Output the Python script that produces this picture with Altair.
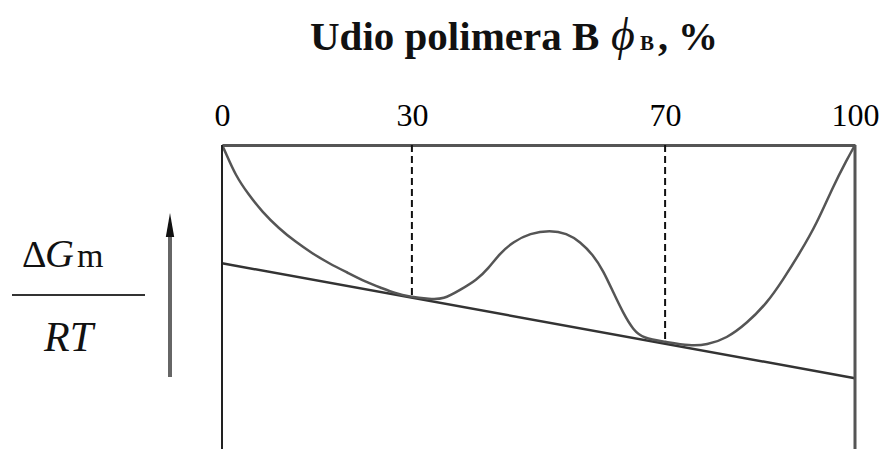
import altair as alt
import pandas as pd

# Curve of mixing free energy  (x: volume fraction of polymer B in %, y: dGm/RT, arbitrary units)
phi = [0, 0.52, 2.10, 4.22, 6.32, 8.96, 11.58, 14.22, 16.86, 20.02, 22.64, 25.28, 27.38, 29.49,
       32.86, 34.96, 37.6, 40.24, 42.07, 43.92, 46.02, 48.66, 51.82, 54.45, 56.56, 58.66, 60.24,
       61.82, 63.40, 64.98, 66.56, 69.98, 73.93, 76.57, 79.73, 82.89, 86.1, 88.6, 91.3, 94.0,
       96.5, 98.7, 100]
dg = [0, -0.22, -0.99, -1.64, -2.19, -2.74, -3.18, -3.56, -3.89, -4.22, -4.50, -4.71, -4.88, -4.99,
      -5.07, -5.08, -4.77, -4.44, -4.06, -3.56, -3.18, -2.90, -2.80, -2.90, -3.18, -3.62, -4.14,
      -4.85, -5.54, -6.09, -6.36, -6.47, -6.61, -6.58, -6.36, -5.87, -5.20, -4.44, -3.55, -2.57,
      -1.38, -0.49, 0]

# common tangent
tan_phi = [0, 100]
tan_dg = [-3.89, -7.67]

# dashed markers at the binodal compositions
mark_phi = [30, 70]
mark_top = [0, 0]
mark_dg = [-5.0, -6.5]

tick_values = [0, 30, 70, 100]
y_domain = [-10, 0]

title_main = "Udio polimera B"
title_phi = "ϕ"
title_sub = "B"
title_end = ", %"

SERIF = "Liberation Serif"

curve_df = pd.DataFrame({"phi": phi, "dg": dg})
tan_df = pd.DataFrame({"phi": tan_phi, "dg": tan_dg})
mark_df = pd.DataFrame({"phi": mark_phi, "top": mark_top, "dg": mark_dg})

xscale = alt.Scale(domain=[0, 100], nice=False, zero=False)
yscale = alt.Scale(domain=y_domain, nice=False, zero=False)

xaxis = alt.Axis(orient="top", values=tick_values, title=None, grid=False, ticks=False,
                 domainColor="#555555", domainWidth=3, labelFont=SERIF, labelFontSize=32,
                 labelColor="#000000", labelPadding=13, labelFlush=False, labelAngle=0,
                 format="d")

X = alt.X("phi:Q", scale=xscale, axis=xaxis)
Y = alt.Y("dg:Q", scale=yscale, axis=None)

curve = alt.Chart(curve_df).mark_line(color="#555555", strokeWidth=2.5, interpolate="basis").encode(
    x=X, y=Y)

tangent = alt.Chart(tan_df).mark_line(color="#333333", strokeWidth=2.5).encode(x=X, y=Y)

dashes = alt.Chart(mark_df).mark_rule(color="#111111", strokeWidth=2, strokeDash=[7, 4]).encode(
    x=X,
    y=alt.Y("top:Q", scale=yscale, axis=None),
    y2="dg:Q",
)


def one():
    return alt.Chart(alt.Data(values=[{"k": 0}]))


left_frame = one().mark_rule(color="#222222", strokeWidth=2).encode(
    x=alt.value(0), y=alt.value(0), y2=alt.value(304))
right_frame = one().mark_rule(color="#555555", strokeWidth=3).encode(
    x=alt.value(633), y=alt.value(0), y2=alt.value(304))


def txt(text, x, y, size, weight="normal", style="normal"):
    return one().mark_text(text=text, align="left", baseline="alphabetic", font=SERIF,
                           fontSize=size, fontWeight=weight, fontStyle=style,
                           color="#111111").encode(x=alt.value(x), y=alt.value(y))


t1 = txt(title_main, 88, -95, 41, weight="bold")
t2 = txt(title_phi, 389, -95, 46, style="italic")
t3 = txt(title_sub, 418, -95, 21, weight="bold")
t4 = txt(title_end, 436, -95, 40, weight="bold")

# y label: dGm / RT
l1 = txt("Δ", -200, 122, 38)
l2 = txt("G", -177, 122, 40, style="italic")
l3 = txt("m", -145, 122, 34)
l4 = txt("RT", -178, 206, 42, style="italic")
frac = one().mark_rule(color="#333333", strokeWidth=2).encode(
    x=alt.value(-210), x2=alt.value(-77), y=alt.value(150))

arrow = one().mark_rule(color="#666666", strokeWidth=4).encode(
    x=alt.value(-52), y=alt.value(232), y2=alt.value(88))
head = one().mark_point(shape="M0,-1L0.35,1L-0.35,1Z", filled=True, color="#111111",
                        opacity=1, size=576).encode(x=alt.value(-52), y=alt.value(80))

chart = alt.layer(
    dashes, tangent, curve, left_frame, right_frame,
    t1, t2, t3, t4, l1, l2, l3, l4, frac, arrow, head,
).properties(
    width=633, height=304,
    autosize=alt.AutoSizeParams(type="none"),
    padding={"left": 214, "top": 137, "right": 24, "bottom": 0},
).configure_view(stroke=None).configure(background="white")

chart.save("out.html", embed_options={"renderer": "svg", "actions": False})
